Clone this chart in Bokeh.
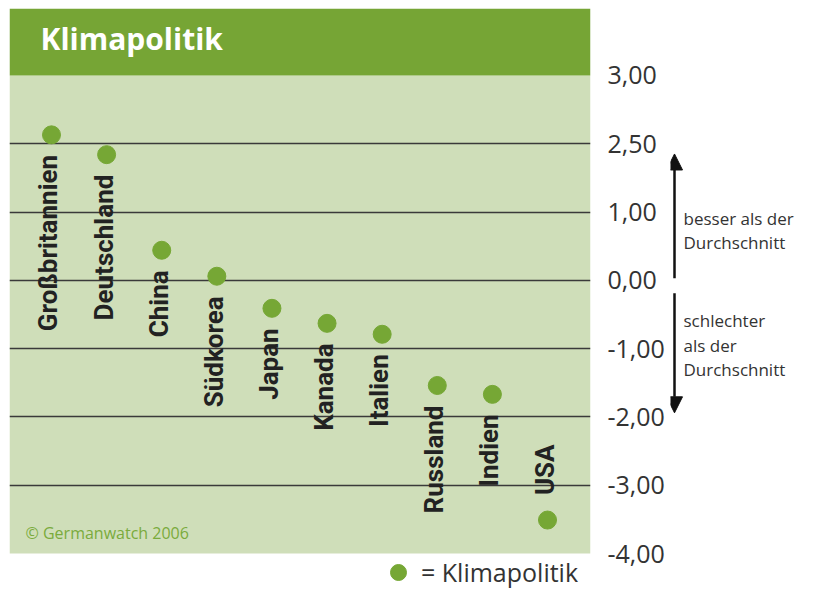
import numpy as np
from bokeh.plotting import figure
from bokeh.layouts import row
from bokeh.models import (Range1d, FixedTicker, LinearAxis, Grid, BoxAnnotation, Label,
                          Arrow, NormalHead, Legend, LegendItem, ColumnDataSource)
from bokeh.core.properties import value
from bokeh.embed import file_html
from bokeh.resources import INLINE

# ---- data ----
countries = ["Großbritannien", "Deutschland", "China", "Südkorea", "Japan",
             "Kanada", "Italien", "Russland", "Indien", "USA"]
scores = [2.13, 1.84, 0.44, 0.06, -0.41, -0.63, -0.79, -1.54, -1.67, -3.51]
tick_values = [3, 2, 1, 0, -1, -2, -3, -4]
tick_labels = ["3,00", "2,50", "1,00", "0,00", "-1,00", "-2,00", "-3,00", "-4,00"]
grid_values = [2, 1, 0, -1, -2, -3]
axis_min, axis_max = -4, 3
# style: where the country name sits relative to its dot
label_side = ["below"] * 9 + ["above"]

FONT = "Open Sans"
LABEL_FONT = "Roboto"
HEADER = "#76a535"
BG = "#cfdeb9"
DOT = "#76a735"
TXT = "#333333"

aligns = ["right" if s == "below" else "left" for s in label_side]
offsets = [20 if s == "below" else -25 for s in label_side]
src = ColumnDataSource(dict(x=list(range(len(countries))), y=scores, name=countries,
                            align=aligns, yoff=offsets))

yr = Range1d(-4.571, 3.98)
p = figure(frame_width=581, frame_height=584, output_backend="svg", toolbar_location=None,
           x_range=Range1d(-0.762, 9.78), y_range=yr,
           min_border_left=9, min_border_top=8, min_border_right=80, min_border_bottom=0,
           background_fill_color="white", border_fill_color="white", outline_line_color=None,
           x_axis_location=None, y_axis_location=None)
p.grid.visible = False

# plot area background and header band
p.add_layout(BoxAnnotation(bottom=axis_min, top=axis_max, fill_color=BG, fill_alpha=1,
                           line_color=None, level="underlay"))
p.add_layout(BoxAnnotation(bottom=axis_max, fill_color=HEADER, fill_alpha=1, line_color=None))

grid = Grid(dimension=1, ticker=FixedTicker(ticks=grid_values),
            grid_line_color="#3a3a3a", grid_line_width=1.3, level="underlay")
p.add_layout(grid)

ax = LinearAxis(ticker=FixedTicker(ticks=tick_values),
                major_label_overrides={v: l for v, l in zip(tick_values, tick_labels)})
ax.axis_line_color = None
ax.major_tick_line_color = None
ax.minor_tick_line_color = None
ax.major_label_text_font = FONT
ax.major_label_text_font_size = "25px"
ax.major_label_text_color = TXT
ax.major_label_text_align = "right"
ax.major_label_standoff = 11
p.add_layout(ax, "right")

p.add_layout(Label(x=31, y=554, x_units="screen", y_units="screen", text="Klimapolitik",
                   text_color="white", text_font=FONT, text_font_style="bold",
                   text_font_size="30px", text_baseline="middle"))
p.add_layout(Label(x=16, y=60, x_units="screen", y_units="screen", text="© Germanwatch 2006",
                   text_color="#7aab3c", text_font=FONT, text_font_size="16px",
                   text_baseline="middle"))

r = p.scatter("x", "y", source=src, size=18, color=DOT)
p.text("x", "y", text="name", source=src, angle=np.pi / 2, text_align="align",
       text_baseline="middle", y_offset="yoff", x_offset=-3, text_font=value(LABEL_FONT),
       text_font_style="bold", text_font_size="26px", text_color="#222222")

legend = Legend(items=[LegendItem(label="= Klimapolitik", renderers=[r])],
                location=(368, 0), glyph_width=42, glyph_height=40, label_standoff=2,
                padding=0, margin=0, border_line_color=None, background_fill_alpha=0,
                label_text_font=FONT, label_text_font_size="25px", label_text_color=TXT)
p.add_layout(legend, "center")

# ---- side panel with arrows and notes (shares the value axis) ----
side = figure(frame_width=136, frame_height=584, output_backend="svg", toolbar_location=None,
              x_range=Range1d(0, 136), y_range=yr,
              min_border_left=0, min_border_right=0, min_border_top=8, min_border_bottom=0,
              background_fill_color="white", border_fill_color="white",
              outline_line_color=None, x_axis_location=None, y_axis_location=None)
side.grid.visible = False
for ys, ye in [(0.03, 1.85), (-0.19, -1.94)]:
    side.add_layout(Arrow(x_start=4, y_start=ys, x_end=4, y_end=ye, line_width=2.5,
                          line_color="#111111",
                          end=NormalHead(size=16, fill_color="#111111", line_color="#111111")))
for t, yy in [("besser als der", 0.90), ("Durchschnitt", 0.55),
              ("schlechter", -0.59), ("als der", -0.95), ("Durchschnitt", -1.30)]:
    side.add_layout(Label(x=13, y=yy, text=t, text_color=TXT, text_font=FONT,
                          text_font_size="17px", text_baseline="middle"))

open("out.html", "w").write(file_html(row(p, side), INLINE))
